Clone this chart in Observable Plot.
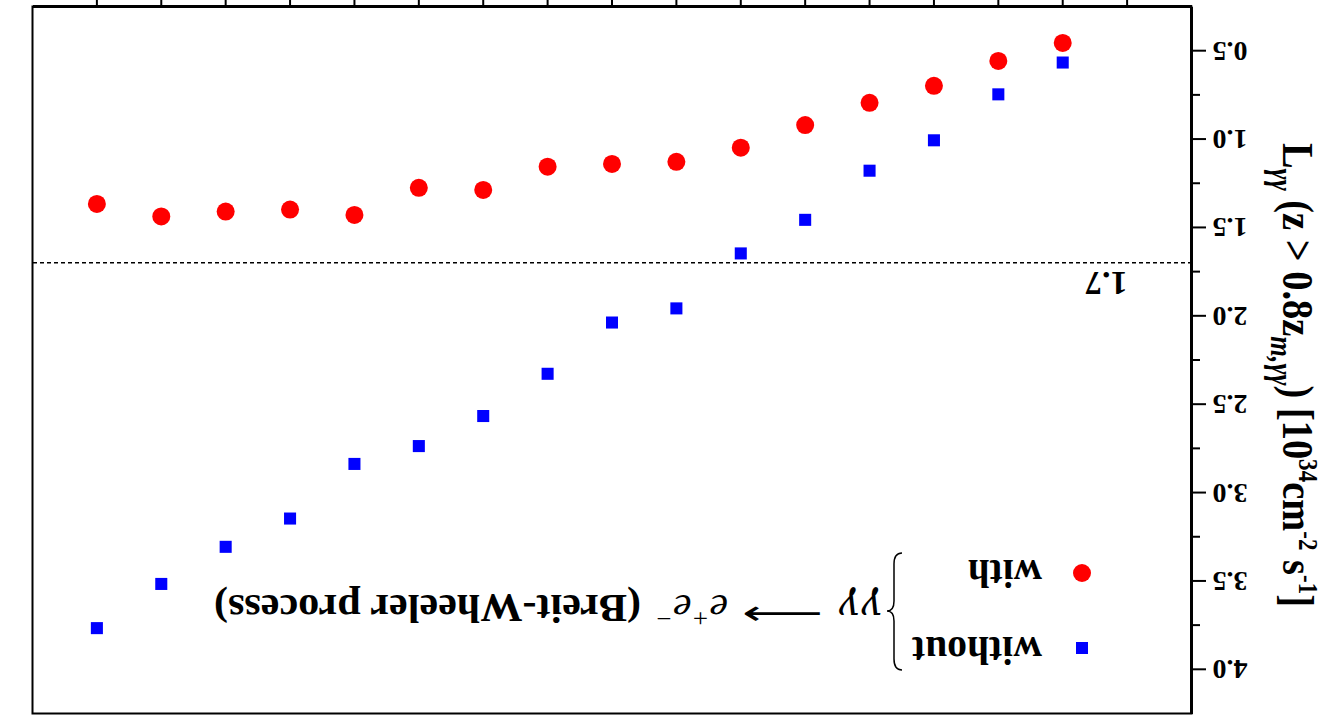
<!DOCTYPE html>
<html>
<head>
<meta charset="utf-8">
<script src="https://cdn.jsdelivr.net/npm/d3@7"></script>
<script src="https://cdn.jsdelivr.net/npm/@observablehq/plot@0.6"></script>
<style>
html, body { margin: 0; padding: 0; background: #fff; overflow: hidden; }
#wrap { width: 1327px; height: 725px; overflow: hidden; position: relative;
        transform: rotate(180deg); transform-origin: 50% 50%; background: #fff; }
</style>
</head>
<body>
<div id="wrap"></div>
<script>
// ---- data ----
const xPositions = [2, 3, 4, 5, 6, 7, 8, 9, 10, 11, 12, 13, 14, 15, 16, 17];
const withBW = [0.456, 0.558, 0.699, 0.795, 0.921, 1.049, 1.129, 1.141, 1.156, 1.288, 1.276, 1.429, 1.399, 1.410, 1.438, 1.367];
const withoutBW = [0.567, 0.747, 1.007, 1.179, 1.457, 1.647, 1.958, 2.038, 2.328, 2.567, 2.737, 2.838, 3.147, 3.307, 3.517, 3.767];
const seriesNames = ["with", "without"];
const yMajorTicks = [0.5, 1.0, 1.5, 2.0, 2.5, 3.0, 3.5, 4.0];
const yMinorTicks = [0.75, 1.25, 1.75, 2.25, 2.75, 3.25, 3.75];
const xTicks = [1, 2, 3, 4, 5, 6, 7, 8, 9, 10, 11, 12, 13, 14, 15, 16, 17];
const threshold = [1.7];
const thresholdLabel = ["1.7"];
const processLabel = "(Breit-Wheeler process)";

const rowsWith = xPositions.map((x, i) => ({x, y: withBW[i]}));
const rowsWithout = xPositions.map((x, i) => ({x, y: withoutBW[i]}));

const serif = "'Liberation Serif', 'Times New Roman', serif";

const svg = Plot.plot({
  width: 1327,
  height: 725,
  marginLeft: 135,
  marginRight: 33,
  marginTop: 11,
  marginBottom: 7,
  style: {fontFamily: serif, fontWeight: "bold", background: "#fff", color: "#000"},
  x: {domain: [0, 18], axis: null},
  y: {domain: [0.25, 4.25], axis: null},
  marks: [
    Plot.frame({stroke: "#000", strokeWidth: 2}),
    Plot.axisX(xTicks, {tickSize: 10, strokeWidth: 2, fill: "none", label: null}),
    Plot.axisY(yMajorTicks, {tickSize: 14, tickPadding: 7, strokeWidth: 2, fontSize: 28, fontWeight: "bold",
      tickFormat: d3.format(".1f"), label: null}),
    Plot.axisY(yMinorTicks, {tickSize: 8, strokeWidth: 2, fill: "none", label: null}),
    Plot.ruleX([0], {stroke: "#000", strokeWidth: 3}),
    Plot.ruleY([0.25], {stroke: "#000", strokeWidth: 3}),
    Plot.ruleY(threshold, {stroke: "#000", strokeWidth: 1.5, strokeDasharray: "4,3"}),
    Plot.text(threshold, {y: d => d, frameAnchor: "left", dx: 64, dy: -9, text: (d, i) => thresholdLabel[i],
      textAnchor: "start", lineAnchor: "bottom", fontSize: 34, fontWeight: "bold", fill: "#000"}),
    Plot.dot(rowsWithout, {x: "x", y: "y", symbol: "square", r: 6.8, fill: "#0000ff", stroke: "none"}),
    Plot.dot(rowsWith, {x: "x", y: "y", symbol: "circle", r: 9, fill: "#ff0000", stroke: "none"})
  ]
});

const s = d3.select(svg);

function addRich(parent, segments) {
  let shift = 0;
  for (const seg of segments) {
    const ts = parent.append("tspan").text(seg.t);
    const target = seg.dy || 0;
    if (target !== shift) { ts.attr("dy", target - shift); shift = target; }
    if (seg.size) ts.attr("font-size", seg.size);
    if (seg.italic) ts.attr("font-style", "italic");
    if (seg.weight) ts.attr("font-weight", seg.weight);
  }
}

// ---- y-axis title with sub/superscripts ----
const yTitle = s.append("text")
  .attr("transform", "translate(44,350) rotate(-90)")
  .attr("text-anchor", "middle")
  .attr("font-family", serif)
  .attr("font-weight", "bold")
  .attr("font-size", 45)
  .attr("fill", "#000")
  .attr("textLength", 464)
  .attr("lengthAdjust", "spacingAndGlyphs");
addRich(yTitle, [
  {t: "L"},
  {t: "γγ", dy: 12, size: 31, italic: true},
  {t: " (z > 0.8z", dy: 0},
  {t: "m,γγ", dy: 12, size: 31, italic: true},
  {t: ") [10", dy: 0},
  {t: "34", dy: -16, size: 27},
  {t: "cm", dy: 0},
  {t: "-2", dy: -16, size: 27},
  {t: " s", dy: 0},
  {t: "-1", dy: -16, size: 27},
  {t: "]", dy: 0}
]);

// ---- legend ----
const lg = s.append("g").attr("text-anchor", "start");
function label(x, y, txt, opts = {}) {
  const t = lg.append("text").attr("x", x).attr("y", y)
    .attr("text-anchor", "start")
    .attr("font-family", opts.family || serif)
    .attr("font-weight", opts.weight || "bold")
    .attr("font-style", opts.italic ? "italic" : "normal")
    .attr("font-size", opts.size || 39)
    .attr("fill", "#000");
  if (opts.length) t.attr("textLength", opts.length).attr("lengthAdjust", "spacingAndGlyphs");
  if (txt != null) t.text(txt);
  return t;
}
// without (blue square)
lg.append("path").attr("d", d3.symbol(d3.symbolSquare, 144)()).attr("transform", "translate(245,77)").attr("fill", "#0000ff");
label(285, 88, seriesNames[1], {length: 130});
// with (red circle)
lg.append("circle").attr("cx", 245).attr("cy", 152).attr("r", 9).attr("fill", "#ff0000");
label(285, 165, seriesNames[0], {length: 74});
// brace
lg.append("path")
  .attr("d", "M425,55 Q433,55 433,66 L433,104 Q433,114 440,114 Q433,114 433,124 L433,161 Q433,172 425,172")
  .attr("fill", "none").attr("stroke", "#000").attr("stroke-width", 1.5);
// process text
label(443, 130, "γγ", {weight: "normal", italic: true, size: 40, family: "'DejaVu Serif', serif", length: 45});
label(504, 122, "⟶", {weight: "normal", size: 34, family: "'DejaVu Sans', sans-serif", length: 81});
const ee = label(599, 130, null, {weight: "normal", italic: true, size: 40, family: serif, length: 73});
addRich(ee, [
  {t: "e"},
  {t: "+", dy: -15, size: 26, weight: "normal"},
  {t: "e", dy: 0},
  {t: "−", dy: -15, size: 26, weight: "normal"}
]);
label(686, 130, processLabel, {size: 40, length: 427});

document.getElementById("wrap").appendChild(svg);
</script>
</body>
</html>
